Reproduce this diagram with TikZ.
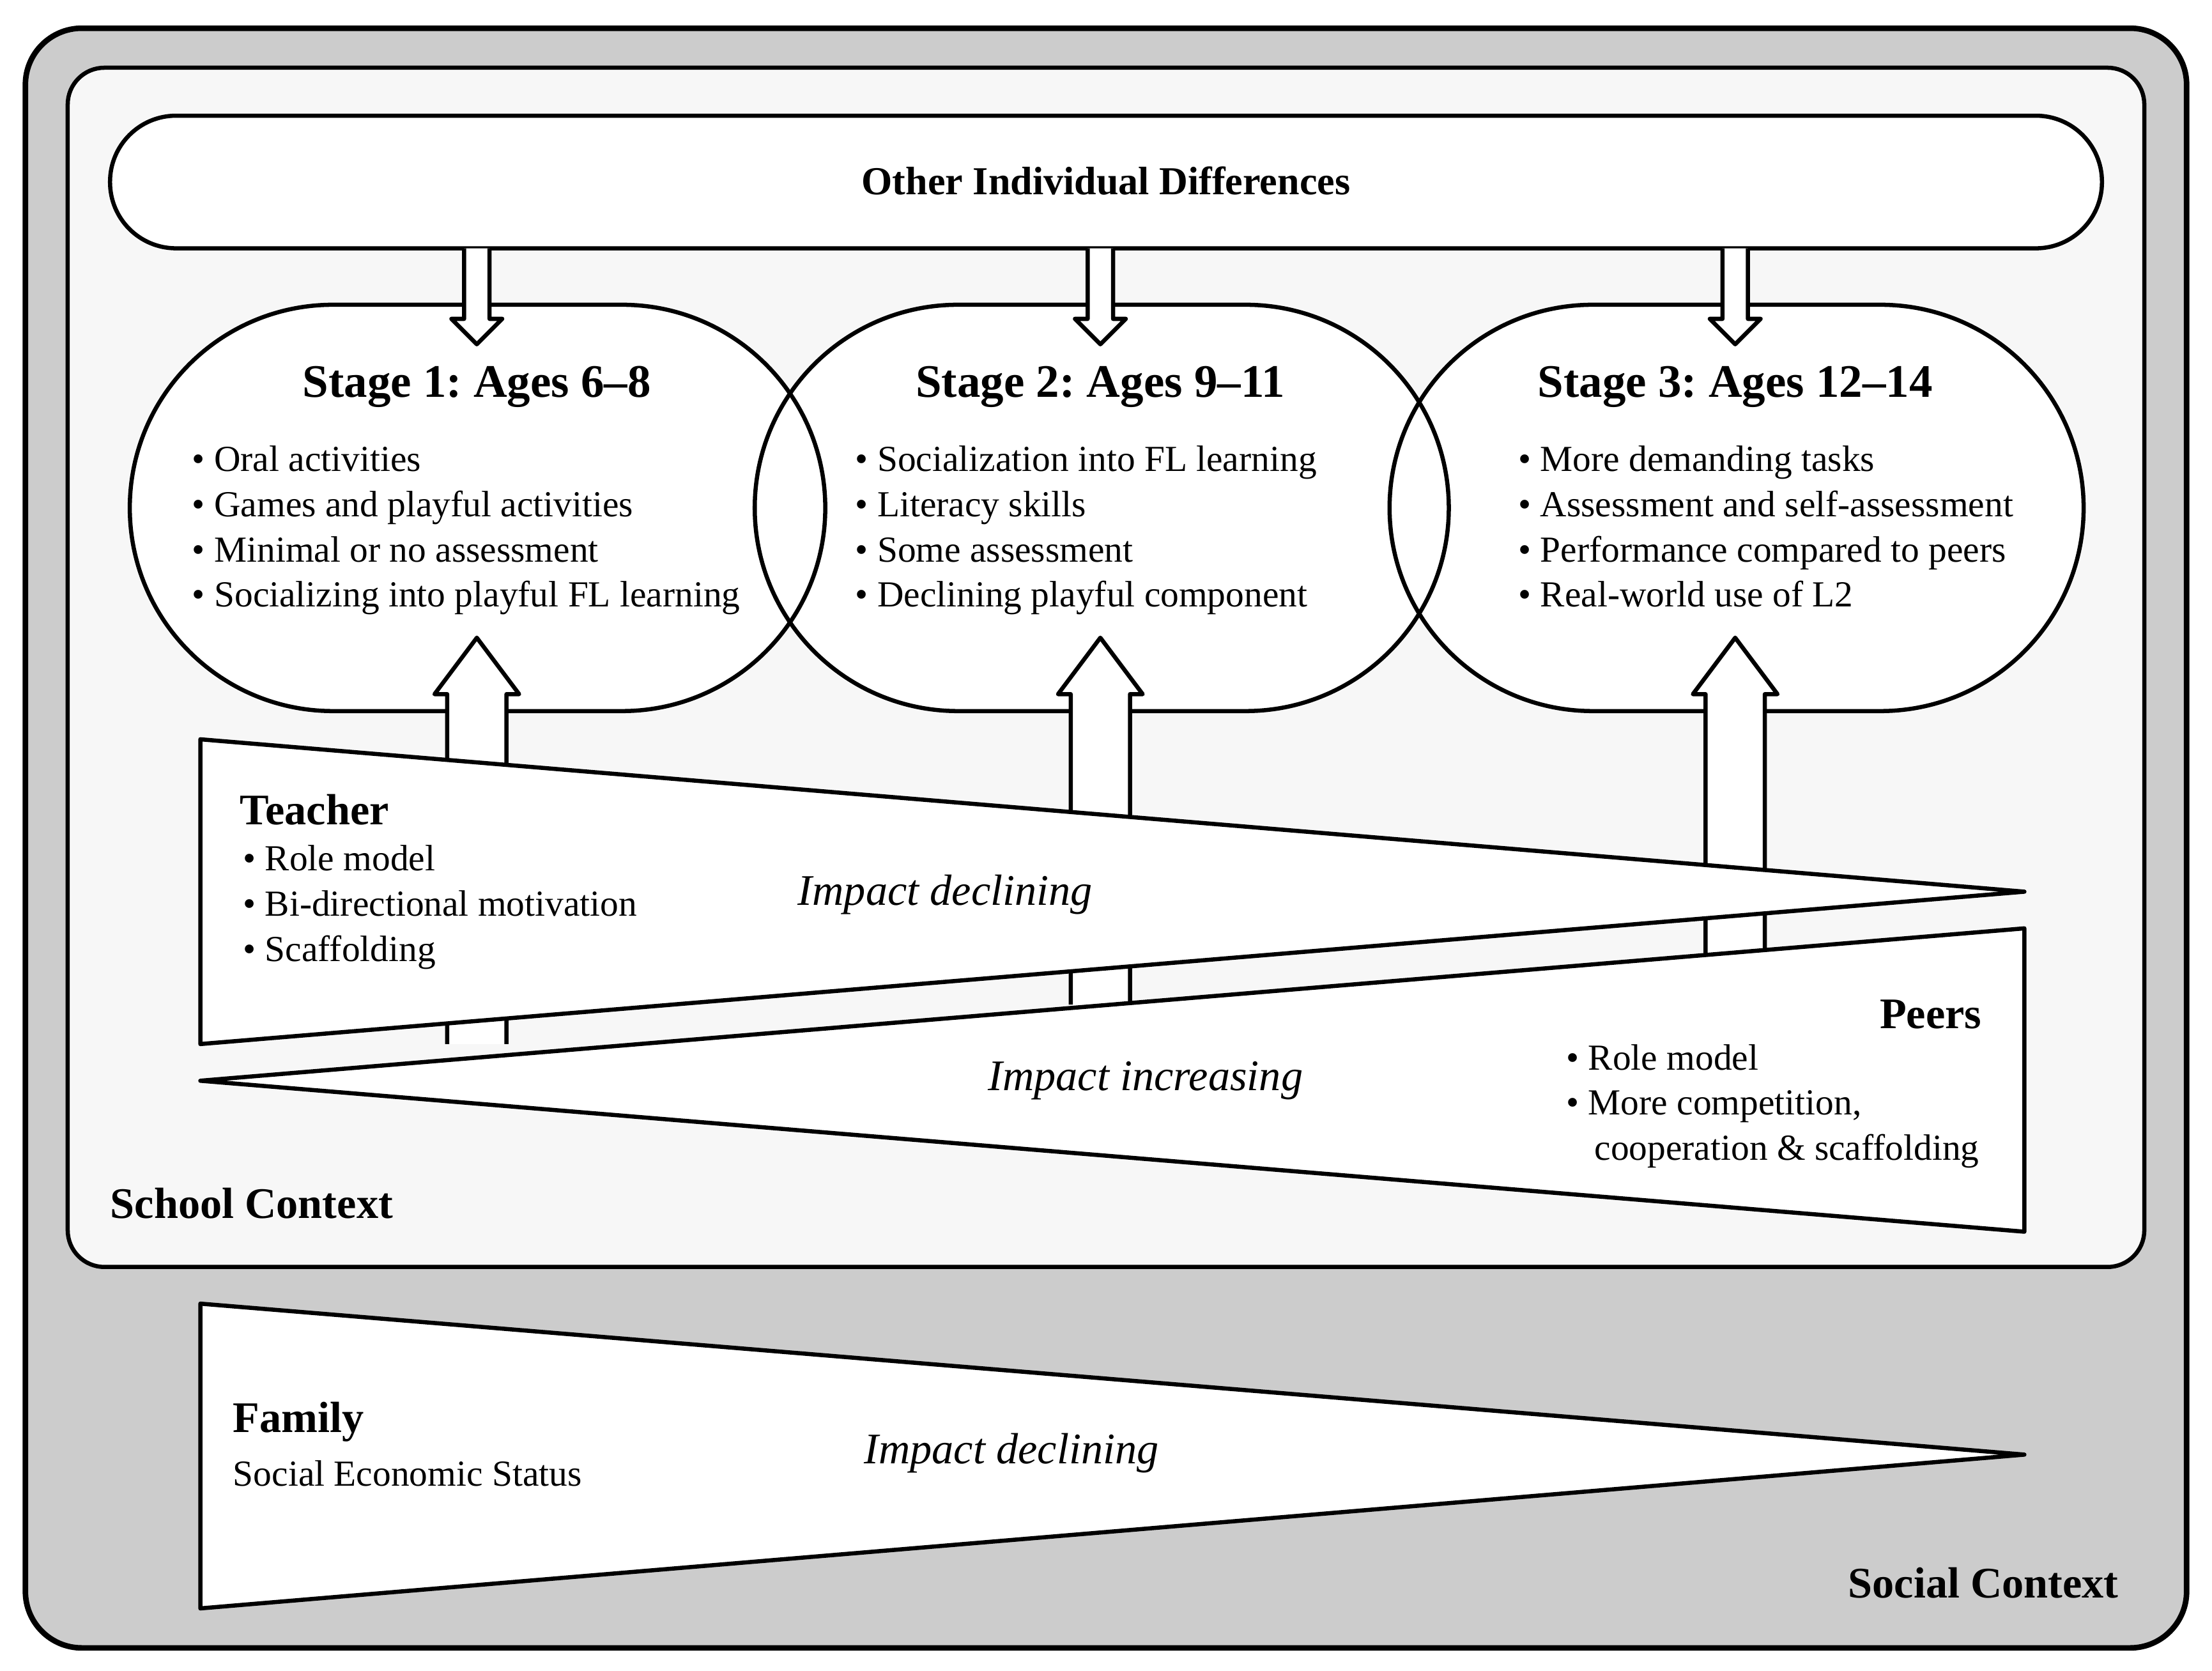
\documentclass[tikz,border=0pt]{standalone}
\usepackage{fontspec}
\setmainfont{Liberation Serif}
\begin{document}
\frenchspacing
\begin{tikzpicture}[x=0.025cm,y=-0.025cm,
  ln/.style={line width=2.1pt,line join=round},
  txt/.style={font=\fontsize{18.5}{22}\selectfont,anchor=base west,inner sep=0,yshift=-0.18cm},
  hd/.style={font=\fontsize{22}{26}\selectfont\bfseries,inner sep=0},
  imp/.style={font=\fontsize{22}{26}\selectfont\itshape,inner sep=0}]
\useasboundingbox (0,0) rectangle (1568,1184);
\draw[line width=2.8pt,fill=black!20,rounded corners=1cm] (18,20) rectangle (1550,1168);
\draw[ln,fill=black!3,rounded corners=0.65cm] (48,48) rectangle (1520,898);
\draw[ln,fill=white,rounded corners=1.17cm] (78,82) rectangle (1490,176);
\node[hd,font=\fontsize{20}{24}\selectfont\bfseries] (oid) at (784,128) {Other Individual Differences};
% stages
\foreach \a/\b in {92/585,535/1027,985/1477}{
  \fill[white,rounded corners=3.6cm] (\a,216) rectangle (\b,504);}
\foreach \a/\b in {92/585,535/1027,985/1477}{
  \draw[ln,rounded corners=3.6cm] (\a,216) rectangle (\b,504);}
% down arrows
\foreach \c in {338,780,1230}{
  \draw[ln,fill=white] (\c-9,176) -- (\c-9,226) -- (\c-18,226) -- (\c,244) -- (\c+18,226) -- (\c+9,226) -- (\c+9,176);
}
% up arrows
\foreach \c/\bt in {338/740,780/712,1230/676}{
  \draw[ln,fill=white] (\c-21,\bt) -- (\c-21,492) -- (\c-30,492) -- (\c,452) -- (\c+30,492) -- (\c+21,492) -- (\c+21,\bt);
}
\node[hd,font=\fontsize{23.5}{28}\selectfont\bfseries] (s1) at (338,274) {Stage 1: Ages 6--8};
\node[hd,font=\fontsize{23.5}{28}\selectfont\bfseries] (s2) at (780,274) {Stage 2: Ages 9--11};
\node[hd,font=\fontsize{23.5}{28}\selectfont\bfseries] (s3) at (1230,274) {Stage 3: Ages 12--14};
\node[txt] (s1a) at (136,327) {• Oral activities};
\node[txt] (s1b) at (136,359) {• Games and playful activities};
\node[txt] (s1c) at (136,391) {• Minimal or no assessment};
\node[txt] (s1d) at (136,423) {• Socializing into playful FL learning};
\node[txt] (s2a) at (606,327) {• Socialization into FL learning};
\node[txt] (s2b) at (606,359) {• Literacy skills};
\node[txt] (s2c) at (606,391) {• Some assessment};
\node[txt] (s2d) at (606,423) {• Declining playful component};
\node[txt] (s3a) at (1076,327) {• More demanding tasks};
\node[txt] (s3b) at (1076,359) {• Assessment and self-assessment};
\node[txt] (s3c) at (1076,391) {• Performance compared to peers};
\node[txt] (s3d) at (1076,423) {• Real-world use of L2};
% triangles
\draw[ln,fill=white] (142,524) -- (1435,632) -- (142,740) -- cycle;
\draw[ln,fill=white] (142,766) -- (1435,658) -- (1435,873) -- cycle;
\draw[ln,fill=white] (142,924) -- (1435,1031) -- (142,1140) -- cycle;
\node[hd,anchor=west] (t) at (170,574) {Teacher};
\node[txt] (t1) at (172,610) {• Role model};
\node[txt] (t2) at (172,642) {• Bi-directional motivation};
\node[txt] (t3) at (172,674) {• Scaffolding};
\node[imp] (i1) at (670,634) {Impact declining};
\node[hd,anchor=east] (p) at (1405,719) {Peers};
\node[txt] (p1) at (1110,751) {• Role model};
\node[txt] (p2) at (1110,783) {• More competition,};
\node[txt] (p3) at (1130,815) {cooperation \& scaffolding};
\node[imp] (i2) at (812,766) {Impact increasing};
\node[hd,anchor=west] (sc) at (78,853) {School Context};
\node[hd,anchor=west] (f) at (165,1008) {Family};
\node[txt] (f1) at (165,1046) {Social Economic Status};
\node[imp] (i3) at (717,1030) {Impact declining};
\node[hd,anchor=east] (soc) at (1502,1122) {Social Context};
\end{tikzpicture}
\end{document}
